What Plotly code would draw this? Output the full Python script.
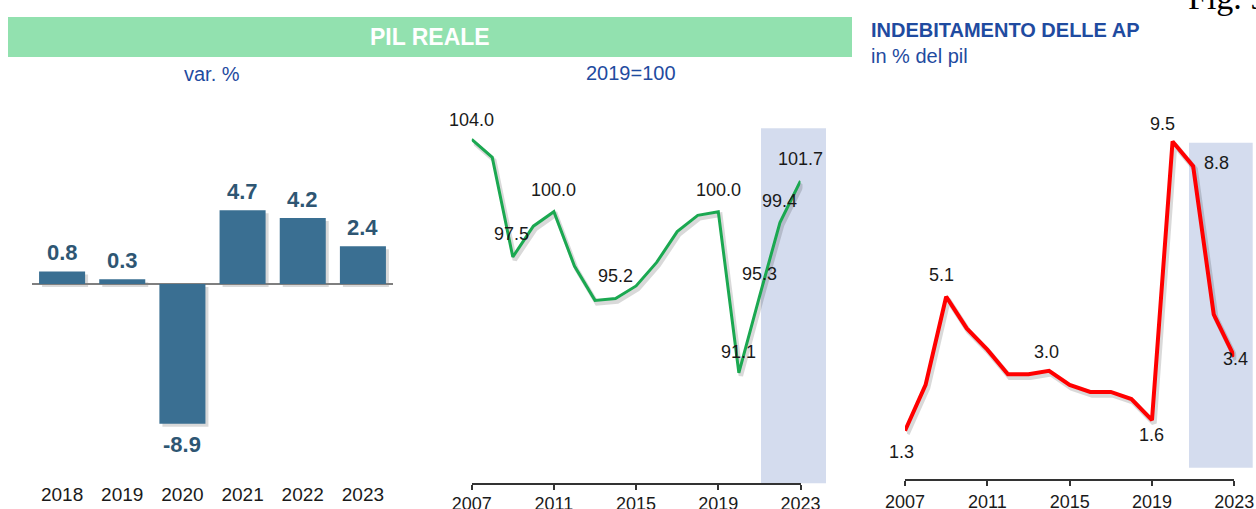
import plotly.graph_objects as go

W, H = 1256, 509

# ---------------- data ----------------
bar_years = [2018, 2019, 2020, 2021, 2022, 2023]
gdp_growth = [0.8, 0.3, -8.9, 4.7, 4.2, 2.4]

years = list(range(2007, 2024))
gdp_index = [104.0, 103.0, 97.5, 99.2, 100.0, 97.0, 95.1, 95.2, 95.9, 97.2,
             98.9, 99.8, 100.0, 91.1, 95.3, 99.4, 101.7]
gdp_label_years = [2007, 2009, 2011, 2014, 2019, 2020, 2021, 2022, 2023]

deficit = [1.3, 2.6, 5.1, 4.2, 3.6, 2.9, 2.9, 3.0, 2.6, 2.4, 2.4, 2.2, 1.6,
           9.5, 8.8, 4.6, 3.4]
deficit_label_years = [2007, 2009, 2014, 2019, 2020, 2021, 2023]

line_ticks = [2007, 2011, 2015, 2019, 2023]

title_main = "PIL REALE"
sub_left = "var. %"
sub_mid = "2019=100"
title_right = "INDEBITAMENTO DELLE AP"
sub_right = "in % del pil"
fig_tag = "Fig. 9"

# ---------------- styles ----------------
FONT = "Arial, 'Liberation Sans', sans-serif"
BLUE_TXT = "#1F4BA0"
BAR_COL = "#3A6F92"
BAR_TXT = "#2E5673"
GREEN = "#1BA851"
RED = "#FF0000"
SHADE = "#D4DCEE"
TITLE_BG = "#92E1AF"
SHADOW = "rgba(0,0,0,0.15)"

mid_offsets = {2007: (0, 19), 2009: (-1, 23), 2011: (0, 22), 2014: (0, 23),
               2019: (0, 22), 2020: (0, 21), 2021: (0, 23), 2022: (0, 22),
               2023: (0, 22)}
right_offsets = {2007: (-4, -21), 2009: (-5, 22), 2014: (-3, 19),
                 2019: (0, -15), 2020: (-10, 17), 2021: (23, 3),
                 2023: (1, -2)}


def dx(a, b):
    return [a / W, b / W]


def dy(top, bottom):
    return [1 - bottom / H, 1 - top / H]


def px(x):
    return x / W


def py(y):
    return 1 - y / H


fig = go.Figure()

# ---------- shadows (lower subplots: x/y, x2/y2, x3/y3) ----------
fig.add_trace(go.Bar(x=bar_years, y=gdp_growth, marker=dict(color=SHADOW, line=dict(width=0)),
                     width=0.765, xaxis="x", yaxis="y", hoverinfo="skip"))
fig.add_trace(go.Scatter(x=years, y=gdp_index, mode="lines",
                         line=dict(color=SHADOW, width=4.5), xaxis="x2", yaxis="y2",
                         hoverinfo="skip"))
fig.add_trace(go.Scatter(x=years, y=deficit, mode="lines",
                         line=dict(color=SHADOW, width=5.5), xaxis="x3", yaxis="y3",
                         hoverinfo="skip"))

# ---------- main traces ----------
fig.add_trace(go.Bar(x=bar_years, y=gdp_growth, marker=dict(color=BAR_COL, line=dict(width=0)),
                     width=0.765, xaxis="x4", yaxis="y4"))
fig.add_trace(go.Scatter(x=years, y=gdp_index, mode="lines",
                         line=dict(color=GREEN, width=3), xaxis="x5", yaxis="y5"))
fig.add_trace(go.Scatter(x=years, y=deficit, mode="lines",
                         line=dict(color=RED, width=4), xaxis="x6", yaxis="y6"))

# ---------- axes ----------
bar_xr = [bar_years[0] - 0.5, bar_years[-1] + 0.5]
bar_yr = [-(481 - 284) / 15.7, (284 - 120) / 15.7]
mid_yr = [100 - (483.3 - 211.7) / 18.1, 100 + (211.7 - 128.3) / 18.1]
right_yr = [5.1 - (479.3 - 296.7) / 35.28, 5.1 + (296.7 - 120) / 35.28]

hidden = dict(visible=False, fixedrange=True, automargin=False)

layout_axes = dict(
    # shadow axes
    xaxis=dict(domain=dx(35, 396), anchor="y", range=bar_xr, **hidden),
    yaxis=dict(domain=dy(123, 484), anchor="x", range=bar_yr, **hidden),
    xaxis2=dict(domain=dx(473.7, 802.5), anchor="y2", range=[2007, 2023], **hidden),
    yaxis2=dict(domain=dy(131.3, 486.3), anchor="x2", range=mid_yr, **hidden),
    xaxis3=dict(domain=dx(907, 1236.3), anchor="y3", range=[2007, 2023], **hidden),
    yaxis3=dict(domain=dy(123, 482.3), anchor="x3", range=right_yr, **hidden),
    # bar chart
    xaxis4=dict(domain=dx(32, 393), anchor="y4", range=bar_xr, showline=False,
                showgrid=False, zeroline=False, ticks="", automargin=False,
                tickmode="array", tickvals=bar_years,
                tickfont=dict(size=19, color="#1a1a1a", family=FONT)),
    yaxis4=dict(domain=dy(120, 481), anchor="x4", range=bar_yr, showgrid=False,
                showticklabels=False, zeroline=True, zerolinecolor="#7f7f7f",
                zerolinewidth=1.5, showline=False, ticks="", automargin=False),
    # GDP index
    xaxis5=dict(domain=dx(471.7, 800.5), anchor="y5", range=[2007, 2023], showgrid=False,
                zeroline=False, showline=True, linecolor="#333333", linewidth=1.5,
                ticks="outside", ticklen=5, tickwidth=1.5, tickcolor="#333333",
                tickmode="array", tickvals=line_ticks, automargin=False,
                ticklabelstandoff=-2,
                tickfont=dict(size=18, color="#1a1a1a", family=FONT)),
    yaxis5=dict(domain=dy(128.3, 483.3), anchor="x5", range=mid_yr, visible=False,
                automargin=False),
    # deficit
    xaxis6=dict(domain=dx(905, 1234.3), anchor="y6", range=[2007, 2023], showgrid=False,
                zeroline=False, showline=True, linecolor="#333333", linewidth=1.5,
                ticks="outside", ticklen=5, tickwidth=1.5, tickcolor="#333333",
                tickmode="array", tickvals=line_ticks, automargin=False,
                tickfont=dict(size=18, color="#1a1a1a", family=FONT)),
    yaxis6=dict(domain=dy(120, 479.3), anchor="x6", range=right_yr, visible=False,
                automargin=False),
)

# ---------- shapes ----------
shapes = [
    dict(type="rect", xref="paper", yref="paper", x0=px(8), x1=px(852), y0=py(57), y1=py(17),
         fillcolor=TITLE_BG, line=dict(width=0), layer="below"),
    dict(type="rect", xref="paper", yref="paper", x0=px(761), x1=px(826), y0=py(483.3), y1=py(128.3),
         fillcolor=SHADE, line=dict(width=0), layer="below"),
    dict(type="rect", xref="paper", yref="paper", x0=px(1189), x1=px(1252.7), y0=py(467.7), y1=py(142.7),
         fillcolor=SHADE, line=dict(width=0), layer="below"),
]

# ---------- annotations ----------
ann = []
for yr, v in zip(bar_years, gdp_growth):
    ann.append(dict(x=yr, y=v, xref="x4", yref="y4", text="<b>%.1f</b>" % v, showarrow=False,
                    xanchor="center", yanchor="middle",
                    yshift=18.5 if v >= 0 else -21,
                    font=dict(size=22, color=BAR_TXT, family=FONT)))
for yr, v in zip(years, gdp_index):
    if yr in gdp_label_years:
        xs, ys = mid_offsets[yr]
        ann.append(dict(x=yr, y=v, xref="x5", yref="y5", text="%.1f" % v, showarrow=False,
                        xanchor="center", yanchor="middle",
                        xshift=xs, yshift=ys, font=dict(size=18, color="#1a1a1a", family=FONT)))
for yr, v in zip(years, deficit):
    if yr in deficit_label_years:
        xs, ys = right_offsets[yr]
        ann.append(dict(x=yr, y=v, xref="x6", yref="y6", text="%.1f" % v, showarrow=False,
                        xanchor="center", yanchor="middle",
                        xshift=xs, yshift=ys, font=dict(size=18, color="#1a1a1a", family=FONT)))

ann += [
    dict(x=px(429.5), y=py(36.7), xref="paper", yref="paper", text="<b>%s</b>" % title_main,
         xanchor="center", yanchor="middle",
         showarrow=False, font=dict(size=23, color="white", family=FONT)),
    dict(x=px(212), y=py(74), xref="paper", yref="paper", text=sub_left,
         xanchor="center", yanchor="middle",
         showarrow=False, font=dict(size=20, color=BLUE_TXT, family=FONT)),
    dict(x=px(630.7), y=py(73), xref="paper", yref="paper", text=sub_mid,
         xanchor="center", yanchor="middle",
         showarrow=False, font=dict(size=20, color=BLUE_TXT, family=FONT)),
    dict(x=px(869), y=py(30.3), xref="paper", yref="paper", xanchor="left", yanchor="middle",
         text="<b>%s</b>" % title_right,
         showarrow=False, font=dict(size=20, color=BLUE_TXT, family=FONT)),
    dict(x=px(869), y=py(56), xref="paper", yref="paper", xanchor="left", yanchor="middle",
         text=sub_right,
         showarrow=False, font=dict(size=20, color=BLUE_TXT, family=FONT)),
    dict(x=px(1186), y=py(-2.5), xref="paper", yref="paper", xanchor="left", yanchor="middle",
         text=fig_tag, showarrow=False,
         font=dict(size=34, color="black", family="'Liberation Serif', 'Times New Roman', serif")),
]

fig.update_layout(
    width=W, height=H, autosize=False,
    margin=dict(l=0, r=0, t=0, b=0, pad=0, autoexpand=False),
    paper_bgcolor="white", plot_bgcolor="rgba(0,0,0,0)",
    showlegend=False, barmode="overlay",
    shapes=shapes, annotations=ann,
    font=dict(family=FONT),
    **layout_axes,
)

fig.write_html(
    "out.html",
    config={"displayModeBar": False},
    post_script="document.body.style.margin='0';document.body.style.padding='0';"
                "document.body.style.overflow='hidden';",
)
